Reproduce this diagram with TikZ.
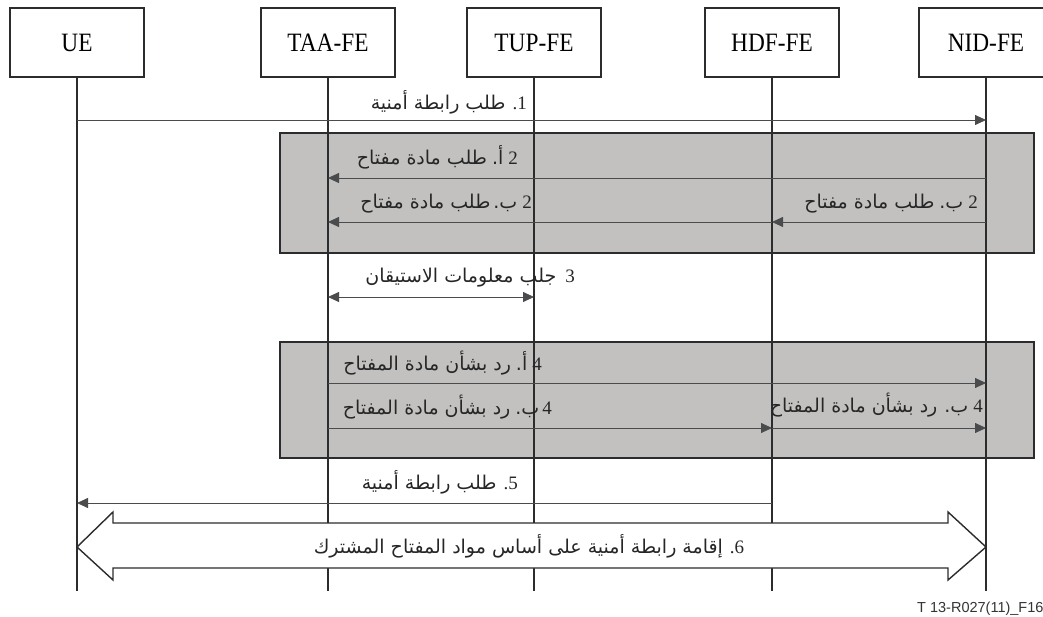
\documentclass[tikz,border=0pt]{standalone}
\usepackage{fontspec}
\setmainfont{Liberation Serif}
\newfontfamily\arfont[Script=Arabic]{DejaVu Sans}
\newfontfamily\boxfont[FakeStretch=0.88]{Liberation Serif}
\newfontfamily\tagfont{Liberation Sans}
\TeXXeTstate=1
\usetikzlibrary{arrows.meta}
% Arabic run, set right to left
\newcommand{\arb}[1]{{\arfont\fontsize{19}{22}\selectfont\beginR #1\endR}}
\newcommand{\ard}{{\arfont\fontsize{19}{22}\selectfont.}}
\definecolor{linec}{HTML}{2B2C2E}
\definecolor{msgc}{HTML}{4A4B4D}
\definecolor{phasegray}{HTML}{C2C1BF}
\tikzset{
  entity/.style={draw=linec, line width=1.4pt, fill=white, minimum width=134pt,
    minimum height=69pt, inner sep=0pt, font=\boxfont\fontsize{26.5}{29}\selectfont},
  lifeline/.style={draw=linec, line width=1.4pt},
  phase/.style={fill=phasegray, draw=linec, line width=1.5pt},
  msg/.style={draw=msgc, line width=0.8pt, -{Triangle[length=11pt,width=10pt]}},
  dmsg/.style={draw=msgc, line width=0.8pt, {Triangle[length=11pt,width=10pt]}-{Triangle[length=11pt,width=10pt]}},
  lbl/.style={inner sep=0pt, anchor=base east, text=black!85, font=\fontsize{19}{22}\selectfont},
  blockarrow/.style={draw=linec, line width=1.4pt, fill=white, line join=miter}
}
\begin{document}
\begin{tikzpicture}[x=1pt, y=-1pt]
\useasboundingbox (0,0) rectangle (1043,617);

% entities
\node[entity] (ue)  at (77,42.5)  {UE};
\node[entity] (taa) at (328,42.5) {TAA-FE};
\node[entity] (tup) at (534,42.5) {TUP-FE};
\node[entity] (hdf) at (772,42.5) {HDF-FE};
\node[entity] (nid) at (986,42.5) {NID-FE};

% lifeline ends
\coordinate (ue-e)  at (77,591);
\coordinate (taa-e) at (328,591);
\coordinate (tup-e) at (534,591);
\coordinate (hdf-e) at (772,591);
\coordinate (nid-e) at (986,591);

% shaded phases
\draw[phase] (280,133) rectangle (1034,253);
\draw[phase] (280,342) rectangle (1034,458);

% lifelines
\draw[lifeline] (ue.south)  -- (ue-e);
\draw[lifeline] (taa.south) -- (taa-e);
\draw[lifeline] (tup.south) -- (tup-e);
\draw[lifeline] (hdf.south) -- (hdf-e);
\draw[lifeline] (nid.south) -- (nid-e);

% message end points
\coordinate (m1a) at (77,120);  \coordinate (m1b) at (986,120);
\coordinate (m2a) at (986,178); \coordinate (m2b) at (328,178);
\coordinate (m2c) at (986,222); \coordinate (m2d) at (772,222); \coordinate (m2e) at (328,222);
\coordinate (m3a) at (328,297); \coordinate (m3b) at (534,297);
\coordinate (m4a) at (328,383); \coordinate (m4b) at (986,383);
\coordinate (m4c) at (328,428); \coordinate (m4d) at (772,428); \coordinate (m4e) at (986,428);
\coordinate (m5a) at (772,503); \coordinate (m5b) at (77,503);

% messages
\draw[msg] (m1a) -- (m1b);
\draw[msg] (m2a) -- (m2b);
\draw[msg] (m2c) -- (m2d);
\draw[msg] (m2d) -- (m2e);
\draw[dmsg] (m3a) -- (m3b);
\draw[msg] (m4a) -- (m4b);
\draw[msg] (m4c) -- (m4d);
\draw[msg] (m4d) -- (m4e);
\draw[msg] (m5a) -- (m5b);

% labels
\node[lbl] (l1)  at (527,110) {\arb{طلب رابطة أمنية}\hspace{7pt}.1};
\node[lbl] (l2a) at (518,165) {\arb{طلب مادة مفتاح}\hspace{5pt}\ard\arb{أ}\hspace{5pt}2};
\node[lbl] (l2b) at (532,209) {\arb{طلب مادة مفتاح}\hspace{3pt}\ard\arb{ب}\hspace{5pt}2};
\node[lbl] (l2c) at (978,209) {\arb{طلب مادة مفتاح}\hspace{5pt}\ard\arb{ب}\hspace{5pt}2};
\node[lbl] (l3)  at (575,283) {\arb{جلب معلومات الاستيقان}\hspace{9pt}3};
\node[lbl] (l4a) at (542,370) {\arb{رد بشأن مادة المفتاح}\hspace{5pt}\ard\arb{أ}\hspace{5pt}4};
\node[lbl] (l4b) at (552,414) {\arb{رد بشأن مادة المفتاح}\hspace{5pt}\ard\arb{ب}\hspace{3pt}4};
\node[lbl] (l4c) at (983,412) {\arb{رد بشأن مادة المفتاح}\hspace{7pt}\ard\arb{ب}\hspace{5pt}4};
\node[lbl] (l5)  at (518,489) {\arb{طلب رابطة أمنية}\hspace{7pt}.5};

% shared-key association (double block arrow)
\coordinate (b6l) at (77,547);
\coordinate (b6r) at (986,547);
\draw[blockarrow] (b6l) -- ++(36,-35) -- ++(0,11) -- (948,523) -- ++(0,-11)
  -- (b6r) -- (948,580) -- ++(0,-12) -- (113,568) -- ++(0,12) -- cycle;
\node[lbl, anchor=base] (l6) at (529,553)
  {\arb{إقامة رابطة أمنية على أساس مواد المفتاح المشترك}\hspace{7pt}.6};

% figure tag
\node[inner sep=0pt, anchor=base west, text=black!80, font=\tagfont\fontsize{14.5}{16}\selectfont]
  (tag) at (917,612) {T 13-R027(11)\_F16};
\end{tikzpicture}
\end{document}
